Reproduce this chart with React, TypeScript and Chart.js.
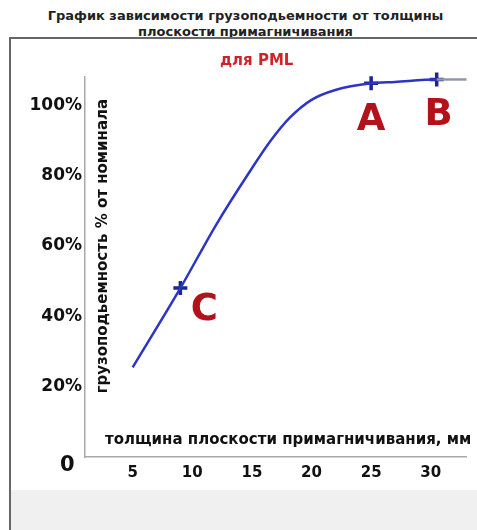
import React, { useEffect, useRef } from 'react';
import { Chart, registerables } from 'chart.js';

Chart.register(...registerables);

// кривая грузоподъемности (мм -> % от номинала)
const curveX = [5, 9, 12, 14.7, 16.6, 18.2, 20, 22, 25, 27, 30.5, 33];
const curveY = [25.5, 48, 66, 80.5, 90, 96.5, 101.5, 104.3, 106.2, 106.6, 107.3, 107.3];

// отмеченные точки
const markerX = [9, 25, 30.5];
const markerY = [48, 106.2, 107.3];
const markerLabels = ['C', 'A', 'B'];

const xTicks = [5, 10, 15, 20, 25, 30];
const yTicks = [0, 20, 40, 60, 80, 100];

const titleLines = ['График зависимости грузоподьемности от толщины', 'плоскости примагничивания'];
const subtitle = 'для PML';
const xTitle = 'толщина плоскости примагничивания, мм';
const yTitle = 'грузоподьемность % от номинала';

const FONT = '"DejaVu Sans", sans-serif';
const BLUE = '#2d35c4';
const RED = '#b3121a';

const textPlugin = {
  id: 'texts',
  afterDraw(chart: any) {
    const { ctx, chartArea } = chart;
    const w = chartArea.right - chartArea.left;
    const h = chartArea.bottom - chartArea.top;
    ctx.save();

    ctx.fillStyle = '#d0222a';
    ctx.font = `bold 15px ${FONT}`;
    ctx.textAlign = 'center';
    ctx.textBaseline = 'middle';
    ctx.fillText(subtitle, chartArea.left + w * 0.45, chartArea.top - 16);

    ctx.fillStyle = '#111';
    ctx.font = `bold 15px ${FONT}`;
    ctx.textAlign = 'left';
    ctx.fillText(xTitle, chartArea.left + 20, chartArea.bottom - 17);

    ctx.save();
    ctx.translate(chartArea.left + 18, chartArea.top + h * 0.445);
    ctx.rotate(-Math.PI / 2);
    ctx.textAlign = 'center';
    ctx.font = `bold 15px ${FONT}`;
    ctx.fillText(yTitle, 0, 0);
    ctx.restore();

    // буквы у отмеченных точек
    const offsets: Record<string, [number, number]> = { C: [24, 22], A: [0, 37], B: [2, 36] };
    const meta = chart.getDatasetMeta(1);
    ctx.fillStyle = RED;
    ctx.font = `bold 37px ${FONT}`;
    ctx.textAlign = 'center';
    meta.data.forEach((el: any, i: number) => {
      const [dx, dy] = offsets[markerLabels[i]];
      ctx.fillText(markerLabels[i], el.x + dx, el.y + dy);
    });
    ctx.restore();
  },
};

const App: React.FC = () => {
  const chartRef = useRef<HTMLCanvasElement>(null);
  const chartInstance = useRef<Chart | null>(null);

  useEffect(() => {
    if (!chartRef.current) return;
    const ctx = chartRef.current.getContext('2d');
    if (!ctx) return;
    if (chartInstance.current) chartInstance.current.destroy();

    const last = curveX.length - 1;

    chartInstance.current = new Chart(ctx, {
      type: 'line',
      data: {
        datasets: [
          {
            data: curveX.map((x, i) => ({ x, y: curveY[i] })),
            borderColor: BLUE,
            borderWidth: 2.5,
            pointRadius: 0,
            cubicInterpolationMode: 'monotone',
            fill: false,
            clip: false,
            segment: {
              borderColor: (c: any) => (c.p1DataIndex === last ? '#9097ad' : BLUE),
            },
          },
          {
            data: markerX.map((x, i) => ({ x, y: markerY[i] })),
            showLine: false,
            clip: false,
            pointStyle: 'cross',
            pointRadius: 7,
            pointBorderWidth: 3.5,
            pointBorderColor: '#1c2590',
            borderColor: '#1c2590',
          },
        ],
      },
      options: {
        responsive: false,
        animation: false,
        layout: { padding: { left: 0, right: 5, top: 38, bottom: 40 } },
        plugins: {
          legend: { display: false },
          tooltip: { enabled: false },
        },
        scales: {
          x: {
            type: 'linear',
            min: 1,
            max: 33,
            afterBuildTicks: (axis: any) => {
              axis.ticks = xTicks.map((v) => ({ value: v }));
            },
            afterFit: (axis: any) => {
              axis.height = 33;
            },
            grid: { display: false, drawTicks: false },
            border: { display: true, color: '#a8a8a8', width: 1.5 },
            ticks: {
              padding: 7,
              color: '#111',
              font: { family: FONT, size: 15, weight: 'bold' },
              callback: (v: any) => String(v),
            },
          },
          y: {
            min: 0,
            max: 108,
            afterBuildTicks: (axis: any) => {
              axis.ticks = yTicks.map((v) => ({ value: v }));
            },
            afterFit: (axis: any) => {
              axis.width = 74;
            },
            grid: { display: false, drawTicks: false },
            border: { display: true, color: '#a8a8a8', width: 1.5 },
            ticks: {
              padding: 3,
              color: '#111',
              font: (c: any) =>
                c.tick && c.tick.value === 0
                  ? { family: FONT, size: 21, weight: 'bold', lineHeight: 0.8 }
                  : { family: FONT, size: 17, weight: 'bold' },
              callback: (v: any) => (v === 0 ? ['', '0 '] : v + '%'),
            },
          },
        },
      },
      plugins: [textPlugin],
    } as any);

    return () => {
      if (chartInstance.current) {
        chartInstance.current.destroy();
        chartInstance.current = null;
      }
    };
  }, []);

  return (
    <div
      style={{
        position: 'fixed',
        left: 0,
        top: 0,
        width: 477,
        height: 530,
        background: '#fff',
        overflow: 'hidden',
        fontFamily: FONT,
      }}
    >
      <div
        style={{
          position: 'absolute',
          left: 14,
          top: 8,
          width: 463,
          textAlign: 'center',
          fontWeight: 'bold',
          fontSize: 13,
          lineHeight: '16px',
          color: '#222',
        }}
      >
        {titleLines.map((t) => (
          <div key={t}>{t}</div>
        ))}
      </div>
      <div
        style={{
          position: 'absolute',
          left: 9,
          top: 37,
          width: 480,
          height: 500,
          borderLeft: '2px solid #666',
          borderTop: '2px solid #666',
        }}
      >
        <div
          style={{
            position: 'absolute',
            left: 0,
            top: 451,
            width: 480,
            height: 60,
            background: '#f0f0f0',
          }}
        />
        <canvas
          ref={chartRef}
          width={466}
          height={491}
          style={{ position: 'absolute', left: 0, top: 0, width: 466, height: 491 }}
        />
      </div>
    </div>
  );
};

export default App;
